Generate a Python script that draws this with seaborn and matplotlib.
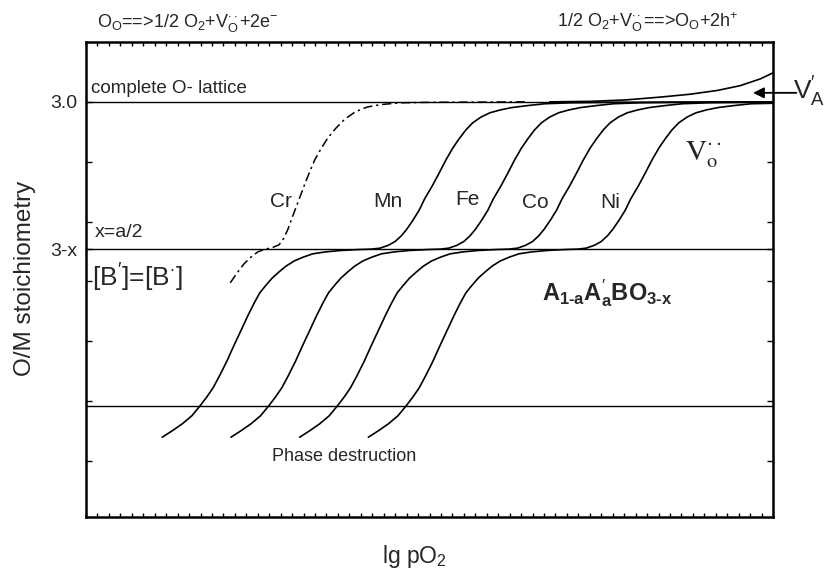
import numpy as np
import pandas as pd
import matplotlib
matplotlib.use("Agg")
import matplotlib.pyplot as plt
import seaborn as sns

sns.set_theme(style="white")
plt.rcParams['font.family'] = ['Liberation Sans', 'DejaVu Sans']
plt.rcParams['mathtext.fontset'] = 'custom'
plt.rcParams['mathtext.rm'] = 'Liberation Sans'
plt.rcParams['mathtext.it'] = 'Liberation Sans:italic'
plt.rcParams['mathtext.bf'] = 'Liberation Sans:bold'

# ---------------- data (schematic units: lg pO2 0..100, O/M 0..100) -------------
level_full = 87.4        # "3.0" complete O-lattice
level_half = 56.4        # "3-x"
level_destruct = 23.4    # phase destruction

ytick_pos = [level_full, level_half]
ytick_labels = ["3.0", "3-x"]
yminor_pos = [74.8, 62.2, 49.6, 37.0, 24.4, 11.8]

metal_y = [16.8, 18.1, 19.6, 21.3, 23.4, 25.3, 27.2, 29.9, 32.8, 36.0, 39.4, 42.5,
           45.1, 47.2, 48.8, 50.3, 51.6, 52.8, 53.9, 54.7, 55.4, 55.8, 56.1, 56.3,
           56.4, 56.6, 57.2, 58.0, 59.2, 60.6, 62.5, 64.6, 67.0, 69.7, 72.4, 75.2,
           77.7, 79.6, 81.5, 83.0, 84.2, 85.1, 85.7, 86.2, 86.6, 87.0, 87.2, 87.3,
           87.4]
mn_x = [11.1, 12.5, 14.0, 15.4, 16.6, 17.6, 18.5, 19.5, 20.5, 21.5, 22.6, 23.6,
        24.5, 25.3, 26.2, 27.1, 28.1, 29.1, 30.3, 31.6, 33.0, 34.8, 37.0, 39.6,
        41.6, 42.8, 44.0, 45.0, 45.9, 46.7, 47.6, 48.5, 49.3, 50.4, 51.4, 52.4,
        53.4, 54.3, 55.3, 56.3, 57.5, 58.8, 60.3, 62.0, 64.2, 66.8, 70.5, 76.3,
        100.0]
fe_x = [21.1, 22.5, 24.0, 25.4, 26.6, 27.6, 28.5, 29.5, 30.5, 31.5, 32.6, 33.6,
        34.5, 35.3, 36.2, 37.1, 38.1, 39.1, 40.3, 41.6, 43.0, 44.8, 47.0, 49.6,
        51.6, 52.8, 54.0, 55.0, 55.9, 56.7, 57.6, 58.5, 59.3, 60.4, 61.4, 62.4,
        63.4, 64.3, 65.3, 66.3, 67.5, 68.8, 70.3, 72.0, 74.2, 76.8, 80.5, 86.3,
        100.0]
co_x = [31.1, 32.5, 34.0, 35.4, 36.6, 37.6, 38.5, 39.5, 40.5, 41.5, 42.6, 43.6,
        44.5, 45.3, 46.2, 47.1, 48.1, 49.1, 50.3, 51.6, 53.0, 54.8, 57.0, 59.6,
        61.6, 62.8, 64.0, 65.0, 65.9, 66.7, 67.6, 68.5, 69.3, 70.4, 71.4, 72.4,
        73.4, 74.3, 75.3, 76.3, 77.5, 78.8, 80.3, 82.0, 84.2, 86.8, 90.5, 96.3,
        100.0]
ni_x = [41.1, 42.5, 44.0, 45.4, 46.6, 47.6, 48.5, 49.5, 50.5, 51.5, 52.6, 53.6,
        54.5, 55.3, 56.2, 57.1, 58.1, 59.1, 60.3, 61.6, 63.0, 64.8, 67.0, 69.6,
        71.6, 72.8, 74.0, 75.0, 75.9, 76.7, 77.6, 78.5, 79.3, 80.4, 81.4, 82.4,
        83.4, 84.3, 85.3, 86.3, 87.5, 88.8, 90.3, 92.0, 94.2, 96.8, 100.0]
ni_y = [16.8, 18.1, 19.6, 21.3, 23.4, 25.3, 27.2, 29.9, 32.8, 36.0, 39.4, 42.5,
        45.1, 47.2, 48.8, 50.3, 51.6, 52.8, 53.9, 54.7, 55.4, 55.8, 56.1, 56.3,
        56.4, 56.6, 57.2, 58.0, 59.2, 60.6, 62.5, 64.6, 67.0, 69.7, 72.4, 75.2,
        77.7, 79.6, 81.5, 83.0, 84.2, 85.1, 85.7, 86.2, 86.6, 87.0, 87.1]

cr_x = [21.0, 22.0, 23.0, 24.0, 25.0, 26.1, 27.1, 28.1, 28.8, 29.4, 30.0, 30.6,
        31.2, 31.9, 32.6, 33.3, 34.2, 35.2, 36.4, 37.7, 39.2, 40.9, 42.8, 45.7,
        50.1, 63.9]
cr_y = [49.3, 51.4, 53.3, 54.7, 55.8, 56.4, 56.7, 57.3, 58.7, 60.6, 63.0, 65.3,
        67.6, 70.3, 72.8, 75.2, 77.5, 79.8, 81.9, 83.8, 85.3, 86.3, 86.8, 87.2,
        87.3, 87.4]

va_x = [67.5, 73.4, 78.5, 83.6, 87.9, 91.9, 95.2, 98.1, 100.0]
va_y = [87.4, 87.5, 87.8, 88.4, 89.0, 89.8, 90.8, 92.2, 93.5]

labels = ["Cr", "Mn", "Fe", "Co", "Ni"]
label_x = [26.8, 41.8, 53.7, 63.4, 74.8]
label_y = [65.3, 65.3, 65.7, 65.1, 65.1]

# ---------------- figure ----------------
fig = plt.figure(figsize=(8.36, 5.76), dpi=100)
ax = fig.add_axes([86 / 836, 59 / 576, 687 / 836, 475 / 576])
ax.set_xlim(0, 100)
ax.set_ylim(0, 100)

for lvl in (level_full, level_half, level_destruct):
    ax.axhline(lvl, color="black", lw=1.0, zorder=2)

for xs, ys in ((mn_x, metal_y), (fe_x, metal_y), (co_x, metal_y), (ni_x, ni_y)):
    sns.lineplot(x=xs, y=ys, sort=False, estimator=None, color="black",
                 lw=1.2, ax=ax, zorder=3)
sns.lineplot(x=cr_x, y=cr_y, sort=False, estimator=None, color="black",
             lw=1.1, ax=ax, zorder=3, linestyle=(0, (6, 2.5, 1.5, 2.5)))
sns.lineplot(x=va_x, y=va_y, sort=False, estimator=None, color="black",
             lw=1.2, ax=ax, zorder=3)

# ticks and spines
ax.set_xticks(np.linspace(0, 100, 61))
ax.tick_params(axis="x", which="both", direction="in", length=3, width=1,
               top=True, bottom=True, labelbottom=False, color="black")
ax.set_yticks(ytick_pos)
ax.set_yticklabels(ytick_labels, fontsize=14)
ax.set_yticks(yminor_pos, minor=True)
ax.tick_params(axis="y", which="both", direction="in", length=4, width=1,
               left=True, right=True, pad=6.5, color="black")
for sp in ax.spines.values():
    sp.set_color("black")
    sp.set_linewidth(1.8)
ax.set_xlabel("")
ax.set_ylabel("")

# texts
ax.text(1.6, 103.2, r"O$_\mathrm{O}$==>1/2 O$_2$+V$_\mathrm{O}^{\cdot\cdot}$+2e$^{-}$",
        fontsize=13, ha="left", va="baseline", clip_on=False)
ax.text(68.6, 103.2, r"1/2 O$_2$+V$_\mathrm{O}^{\cdot\cdot}$==>O$_\mathrm{O}$+2h$^{+}$",
        fontsize=13, ha="left", va="baseline", clip_on=False)
ax.text(0.7, 89.3, "complete O- lattice", fontsize=13.5, ha="left", va="baseline")
ax.text(1.3, 58.9, "x=a/2", fontsize=14, ha="left", va="baseline")
ax.text(0.9, 48.4, r"[B$^{\prime}$]=[B$^{\cdot}$]", fontsize=19, ha="left", va="baseline")
for lab, lx, ly in zip(labels, label_x, label_y):
    ax.text(lx, ly, lab, fontsize=15, ha="left", va="baseline")
ax.text(87.2, 75.2, r"$\mathrm{V}_\mathrm{o}^{\cdot\cdot}$", fontsize=21,
        math_fontfamily="stix", ha="left", va="baseline")
ax.text(66.4, 45.7,
        "$\\mathbf{A}_{\\mathbf{1\u2010a}}\\mathbf{A}^{\\prime}_{\\mathbf{a}}"
        "\\mathbf{BO}_{\\mathbf{3\u2010x}}$",
        fontsize=17, ha="left", va="baseline")
ax.text(27.1, 11.8, "Phase destruction", fontsize=13, ha="left", va="baseline")

ax.annotate("", xy=(97.1, 89.3), xytext=(103.4, 89.3),
            arrowprops=dict(arrowstyle="-|>", color="black", lw=1.3,
                            mutation_scale=16, shrinkA=0, shrinkB=0),
            annotation_clip=False)
ax.text(102.9, 87.8, r"V$_\mathrm{A}^{\prime}$", fontsize=19, ha="left",
        va="baseline", clip_on=False)

fig.text(414 / 836, 1 - 563 / 576, r"lg pO$_2$", fontsize=16.5, ha="center",
         va="baseline")
fig.text(25 / 836, 1 - 278 / 576, "O/M stoichiometry", fontsize=17.5, ha="center",
         va="center", rotation=90)

fig.savefig("out.png", dpi=100)
